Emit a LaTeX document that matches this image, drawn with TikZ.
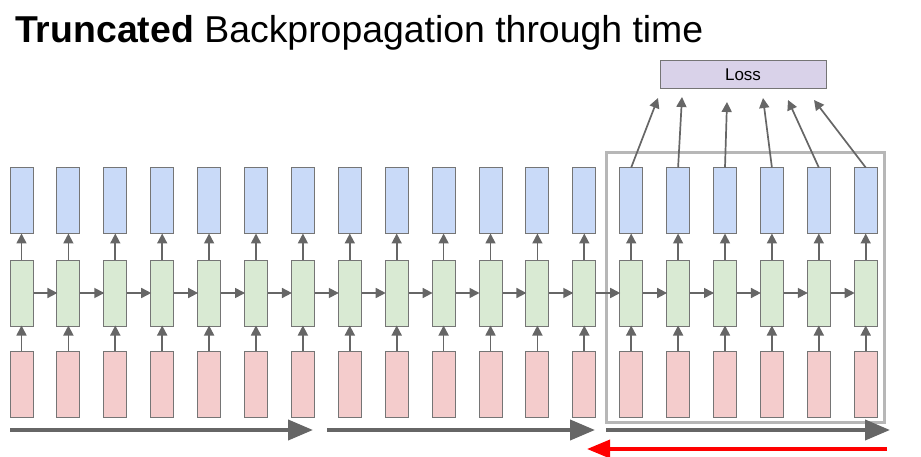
\documentclass[tikz,border=0pt]{standalone}
\usepackage{fontspec}
\setmainfont{Liberation Sans}
\usetikzlibrary{arrows.meta}
\definecolor{cblue}{HTML}{C9DAF8}
\definecolor{cgreen}{HTML}{D9EAD3}
\definecolor{cred}{HTML}{F4CCCC}
\definecolor{cpurple}{HTML}{D9D2E9}
\definecolor{cedge}{HTML}{757575}
\definecolor{carrow}{HTML}{666666}
\definecolor{cframe}{HTML}{B7B7B7}
\definecolor{cbright}{HTML}{FF0000}
\tikzset{
  cell/.style={draw=cedge, line width=1pt, minimum width=23pt, minimum height=66pt, inner sep=0pt},
  bluecell/.style={cell, fill=cblue},
  greencell/.style={cell, fill=cgreen},
  redcell/.style={cell, fill=cred},
  smallarrow/.style={draw=carrow, line width=1.7pt, -{Triangle[length=10pt,width=10pt]}, shorten >=-1pt},
  bigarrow/.style={draw=carrow, line width=4pt, -{Triangle[length=25pt,width=20pt]}},
  redarrow/.style={draw=cbright, line width=3.5pt, -{Triangle[length=23pt,width=18pt]}},
  lossbox/.style={draw=cedge, line width=1pt, fill=cpurple, minimum width=166pt, minimum height=28pt, inner sep=0pt, font=\fontsize{17}{20}\selectfont},
  frame/.style={draw=cframe, line width=3pt}
}
\begin{document}
\begin{tikzpicture}[x=1pt,y=-1pt]
\useasboundingbox (0,0) rectangle (921,457);
\node[anchor=base west, inner sep=0pt, font=\fontsize{37.4}{40}\selectfont] (title) at (15,42.5) {\textbf{Truncated} Backpropagation through time};
% frame
\draw[frame] (606,153) rectangle (884,422);
% cells
\foreach \i in {1,...,19} {
  \pgfmathsetmacro{\xx}{21.5+46.9*(\i-1)}
  \node[bluecell] (b\i) at (\xx,201) {};
  \node[greencell] (g\i) at (\xx,293) {};
  \node[redcell] (r\i) at (\xx,384.5) {};
  \draw[smallarrow] (r\i.north) -- (g\i.south);
  \draw[smallarrow] (g\i.north) -- (b\i.south);
}
\foreach \i [evaluate=\i as \j using int(\i+1)] in {1,...,18} {
  \draw[smallarrow] (g\i.east) -- (g\j.west);
}
% loss
\node[lossbox] (loss) at (743,75) {Loss};
\coordinate (t14) at (658,98);
\coordinate (t15) at (682,97);
\coordinate (t16) at (727,102);
\coordinate (t17) at (763,98);
\coordinate (t18) at (788,100);
\coordinate (t19) at (814,100);
\foreach \i in {14,...,19} {
  \draw[smallarrow, shorten >=0pt] (b\i.north) -- (t\i);
}
% bottom arrows
\coordinate (a1s) at (10,430);
\coordinate (a1e) at (313,430);
\coordinate (a2s) at (327,430);
\coordinate (a2e) at (595,430);
\coordinate (a3s) at (606,430);
\coordinate (a3e) at (890,430);
\coordinate (rs) at (887,449);
\coordinate (re) at (587,449);
\draw[bigarrow] (a1s) -- (a1e);
\draw[bigarrow] (a2s) -- (a2e);
\draw[bigarrow] (a3s) -- (a3e);
\draw[redarrow] (rs) -- (re);
\end{tikzpicture}
\end{document}
